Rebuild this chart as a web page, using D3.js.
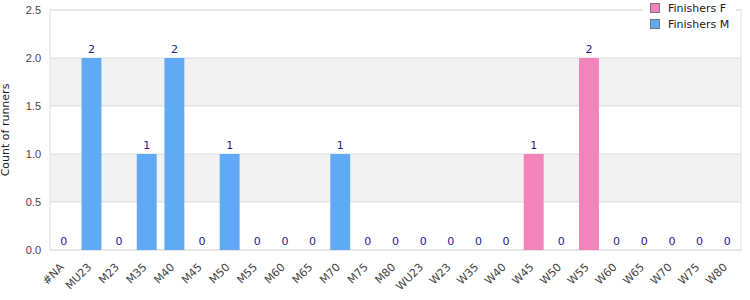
<!DOCTYPE html>
<html>
<head>
<meta charset="utf-8">
<script src="https://cdn.jsdelivr.net/npm/d3@7"></script>
<style>
  body { margin: 0; background: #fff; }
  svg { font-family: "DejaVu Sans", sans-serif; display: block; }
</style>
</head>
<body>
<svg id="chart" width="750" height="300"></svg>
<script>
// Data
const categories = ["#NA", "MU23", "M23", "M35", "M40", "M45", "M50", "M55", "M60", "M65", "M70", "M75", "M80",
  "WU23", "W23", "W35", "W40", "W45", "W50", "W55", "W60", "W65", "W70", "W75", "W80"];
const finishersF = [0, 0, 0, 0, 0, 0, 0, 0, 0, 0, 0, 0, 0, 0, 0, 0, 0, 1, 0, 2, 0, 0, 0, 0, 0];
const finishersM = [0, 2, 0, 1, 2, 0, 1, 0, 0, 0, 1, 0, 0, 0, 0, 0, 0, 0, 0, 0, 0, 0, 0, 0, 0];
const seriesNames = ["Finishers F", "Finishers M"];
const seriesColors = ["#f283bb", "#60a9f4"];
const yTicks = [0, 0.5, 1, 1.5, 2, 2.5];

const svg = d3.select("#chart");
const margin = { top: 10, right: 9, bottom: 50, left: 50 };
const width = 750 - margin.left - margin.right;
const height = 300 - margin.top - margin.bottom;

const g = svg.append("g").attr("transform", `translate(${margin.left},${margin.top})`);

const x = d3.scaleBand().domain(categories).range([0, width]).paddingInner(0.28).paddingOuter(0.14);
const y = d3.scaleLinear().domain([0, 2.5]).range([height, 0]);

// alternating bands
for (let i = 0; i < yTicks.length - 1; i++) {
  if (i % 2 === 1) {
    g.append("rect")
      .attr("x", 0).attr("width", width)
      .attr("y", y(yTicks[i + 1]))
      .attr("height", y(yTicks[i]) - y(yTicks[i + 1]))
      .attr("fill", "#f2f2f2");
  }
}

// gridlines
g.selectAll("line.grid")
  .data(yTicks)
  .enter()
  .append("line")
  .attr("class", "grid")
  .attr("x1", 0).attr("x2", width)
  .attr("y1", d => y(d)).attr("y2", d => y(d))
  .attr("stroke", "#dedede");

// frame
g.append("rect")
  .attr("x", 0).attr("y", 0)
  .attr("width", width).attr("height", height)
  .attr("fill", "none")
  .attr("stroke", "#dedede");

// stacked bars
const table = categories.map((c, i) => ({ cat: c, "Finishers F": finishersF[i], "Finishers M": finishersM[i] }));
const stacked = d3.stack().keys(seriesNames)(table);

g.selectAll("g.series")
  .data(stacked)
  .enter()
  .append("g")
  .attr("class", "series")
  .attr("fill", (d, i) => seriesColors[i])
  .selectAll("rect")
  .data(d => d.filter(p => p[1] > p[0]))
  .enter()
  .append("rect")
  .attr("x", d => x(d.data.cat))
  .attr("width", x.bandwidth())
  .attr("y", d => y(d[1]))
  .attr("height", d => y(d[0]) - y(d[1]));

// value labels
g.selectAll("text.val")
  .data(table)
  .enter()
  .append("text")
  .attr("class", "val")
  .attr("x", d => x(d.cat) + x.bandwidth() / 2)
  .attr("y", d => y(d["Finishers F"] + d["Finishers M"]) - 5)
  .attr("text-anchor", "middle")
  .attr("font-size", 11)
  .attr("fill", "#1c1c8e")
  .text(d => d["Finishers F"] + d["Finishers M"]);

// y axis
const yAxis = g.append("g")
  .call(d3.axisLeft(y).tickValues(yTicks).tickFormat(d3.format(".1f")).tickSize(0).tickPadding(9));
yAxis.select(".domain").remove();
yAxis.selectAll(".tick text").attr("font-size", 11).attr("fill", "#444");

// x axis labels, rotated -45
g.append("g")
  .selectAll("text.xlab")
  .data(categories)
  .enter()
  .append("text")
  .attr("class", "xlab")
  .attr("transform", d => `translate(${x(d) + x.bandwidth() / 2 - 2},${height + 15}) rotate(-45)`)
  .attr("text-anchor", "end")
  .attr("dy", "0.35em")
  .attr("font-size", 11)
  .attr("fill", "#444")
  .text(d => d);

// y title
svg.append("text")
  .attr("transform", `translate(9,${margin.top + height / 2}) rotate(-90)`)
  .attr("text-anchor", "middle")
  .attr("font-size", 11)
  .attr("fill", "#222")
  .text("Count of runners");

// legend
const legend = svg.append("g").attr("transform", "translate(643,0)");
legend.append("rect")
  .attr("x", 0).attr("y", 0)
  .attr("width", 93).attr("height", 34)
  .attr("fill", "#fff");
seriesNames.forEach((name, i) => {
  legend.append("rect")
    .attr("x", 7.5).attr("y", 3.5 + i * 16)
    .attr("width", 9).attr("height", 9)
    .attr("fill", seriesColors[i])
    .attr("stroke", "#777");
  legend.append("text")
    .attr("x", 25).attr("y", 12 + i * 16)
    .attr("font-size", 11)
    .attr("fill", "#222")
    .text(name);
});
</script>
</body>
</html>
